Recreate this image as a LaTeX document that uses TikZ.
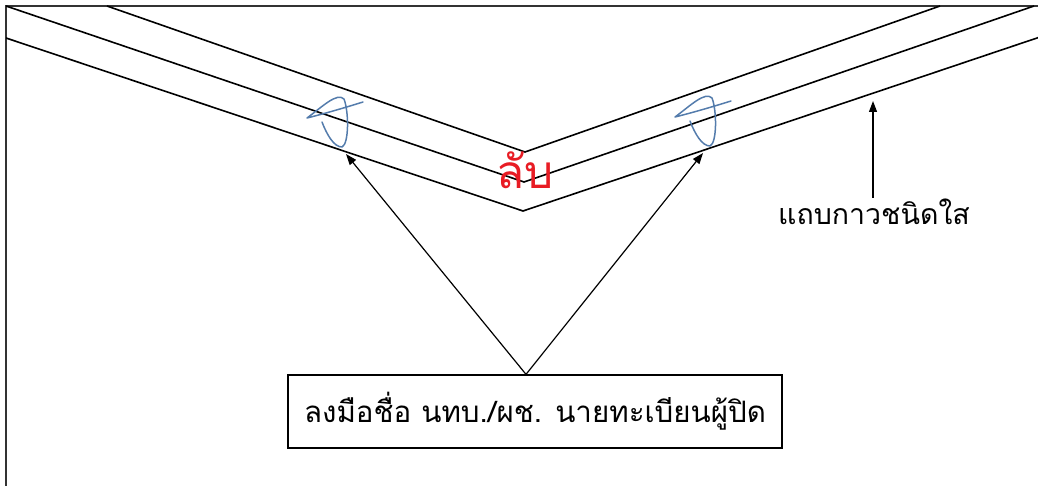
\documentclass[tikz,border=0pt]{standalone}
\usepackage{fontspec}
\newfontfamily\thaifont[Script=Thai]{Loma}
\usetikzlibrary{arrows.meta}
\definecolor{sigblue}{RGB}{84,124,172}
\definecolor{secretred}{RGB}{232,28,36}
\begin{document}
\begin{tikzpicture}[x=1pt,y=-1pt,
  frame/.style={line width=1.7pt, black!80},
  tape/.style={line width=1.6pt, black},
  pointer/.style={line width=1.2pt, -{Triangle[length=11pt,width=8pt]}},
  sig/.style={draw=sigblue, line width=1.5pt, line cap=round, line join=round},
  signature/.pic={
    \draw[sig] (-20,-25) .. controls (-15,-12) and (-8,0) .. (0,0)
      .. controls (7,-3) and (7,-35) .. (2,-48)
      .. controls (-5,-55) and (-20,-40) .. (-35,-29)
      .. controls (-15,-34) and (5,-40) .. (21,-45);
  }]
\useasboundingbox (0,0) rectangle (1038,486);

% envelope edges
\draw[frame] (6,486) -- (6,6) -- (1038,6);

% sealing tape strips folded over the flap
\begin{scope}
\clip (6,6) rectangle (1038,486);
\draw[tape] (107,6) -- (525,152) -- (940,6);
\draw[tape] (6,6) -- (524,182) -- (1034,6);
\draw[tape] (6,38) -- (523,211) -- (1040,37);
\end{scope}

% signatures across the tape
\pic at (342,147) {signature};
\pic at (710,146) {signature};

% secret stamp
\node[text=secretred, font=\thaifont\fontsize{46}{52}\selectfont] (secret) at (525,170) {ลับ};

% tape label
\node[font=\thaifont\fontsize{28.5}{32}\selectfont, inner sep=0pt] (tapelabel) at (874,212) {แถบกาวชนิดใส};
\coordinate (tapept) at (873,101);
\draw[pointer] (873,198) -- (tapept);

% signer box
\node[draw, line width=1.3pt, minimum width=494pt, minimum height=73pt, inner sep=0pt,
      font=\thaifont\fontsize{29.5}{34}\selectfont] (box) at (535,411.5) {ลงมือชื่อ นทบ./ผช. นายทะเบียนผู้ปิด};
\coordinate (apex) at ([xshift=-9pt]box.north);
\coordinate (sigL) at (346,154);
\coordinate (sigR) at (703,153);
\draw[pointer] (apex) -- (sigL);
\draw[pointer] (apex) -- (sigR);
\end{tikzpicture}
\end{document}
